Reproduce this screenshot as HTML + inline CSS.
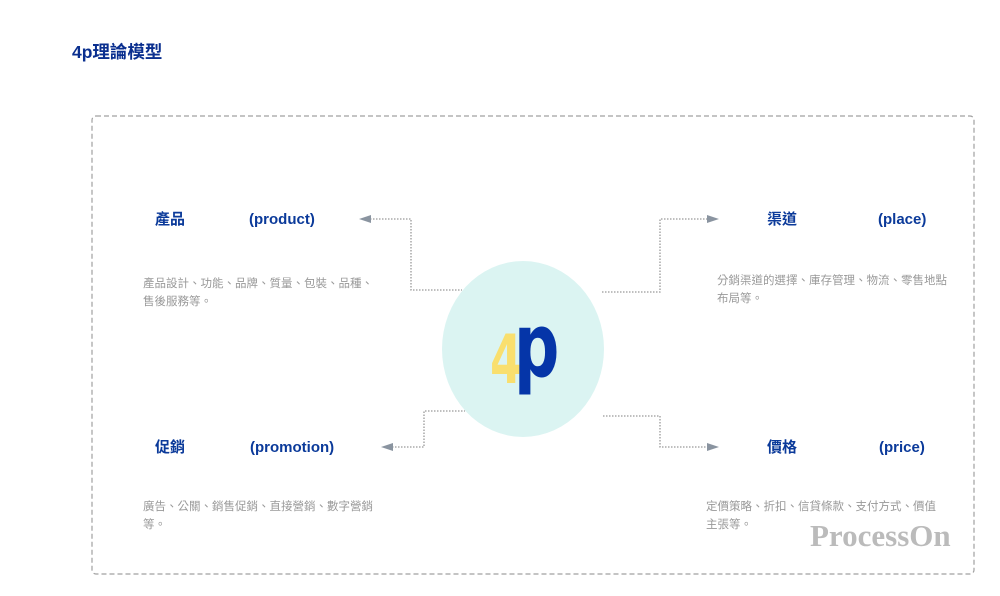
<!DOCTYPE html>
<html><head><meta charset="utf-8"><style>
body{margin:0;background:#fff;width:1000px;height:596px;overflow:hidden;position:relative;font-family:"Liberation Sans","Noto Sans CJK TC",sans-serif}
.t{position:absolute;font-weight:bold;color:#0b3a9a;font-size:15px;line-height:18px;white-space:nowrap}
.d{position:absolute;color:#999;font-size:11.5px;line-height:18px;width:236px}
</style></head><body>
<div class="t" style="left:72px;top:42px;font-size:17.5px;line-height:20px;color:#0a2f8f">4p理論模型</div>
<svg width="1000" height="596" style="position:absolute;left:0;top:0">
<rect x="92" y="116" width="882" height="458" rx="4" fill="none" stroke="#a0a0a0" stroke-dasharray="5,3" stroke-width="1.2"/>
<ellipse cx="523" cy="349" rx="81" ry="88" fill="#dbf4f2"/>
<text x="0" y="0" font-family="DejaVu Sans,sans-serif" font-weight="bold" font-size="68" fill="#f9df6e" transform="translate(490,383) scale(0.68,1)">4</text>
<text x="0" y="0" font-family="DejaVu Sans,sans-serif" font-weight="bold" font-size="88" fill="#0535a8" transform="translate(514,376) scale(0.72,1)">p</text>
<g fill="none" stroke="#999" stroke-width="1.3" stroke-dasharray="1.5,1.5">
<polyline points="370,219 411,219 411,290 462,290"/>
<polyline points="602,292 660,292 660,219 708,219"/>
<polyline points="392,447 424,447 424,411 465,411"/>
<polyline points="603,416 660,416 660,447 708,447"/>
</g>
<g fill="#8a94a0">
<polygon points="359,219 371,215 371,223"/>
<polygon points="719,219 707,215 707,223"/>
<polygon points="381,447 393,443 393,451"/>
<polygon points="719,447 707,443 707,451"/>
</g>
</svg>
<div class="t" style="left:155px;top:211px">產品</div>
<div class="t" style="left:249px;top:211px">(product)</div>
<div class="d" style="left:143px;top:275px">產品設計、功能、品牌、質量、包裝、品種、售後服務等。</div>
<div class="t" style="left:767px;top:211px">渠道</div>
<div class="t" style="left:878px;top:211px">(place)</div>
<div class="d" style="left:717px;top:272px">分銷渠道的選擇、庫存管理、物流、零售地點布局等。</div>
<div class="t" style="left:155px;top:439px">促銷</div>
<div class="t" style="left:250px;top:439px">(promotion)</div>
<div class="d" style="left:143px;top:498px">廣告、公關、銷售促銷、直接營銷、數字營銷等。</div>
<div class="t" style="left:767px;top:439px">價格</div>
<div class="t" style="left:879px;top:439px">(price)</div>
<div class="d" style="left:706px;top:498px">定價策略、折扣、信貸條款、支付方式、價值主張等。</div>
<div style="position:absolute;left:810px;top:518px;font-family:'Liberation Serif',serif;font-weight:bold;font-size:31px;color:#bbb">ProcessOn</div>
</body></html>
